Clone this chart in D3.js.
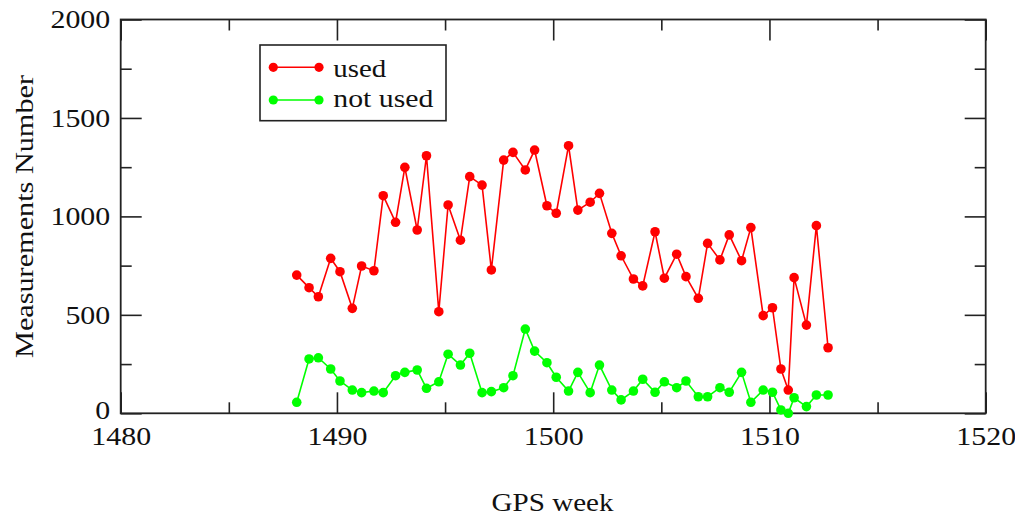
<!DOCTYPE html>
<html>
<head>
<meta charset="utf-8">
<script src="https://cdn.jsdelivr.net/npm/d3@7"></script>
<style>
  html, body { margin: 0; padding: 0; background: #fff; }
  svg { display: block; }
  text { font-family: "Liberation Serif", "DejaVu Serif", serif; fill: #111; }
</style>
</head>
<body>
<svg id="chart" width="1015" height="516"></svg>
<script>
// ---- data ----
const weeks = [1488.14, 1488.71, 1489.14, 1489.71, 1490.14, 1490.71, 1491.14, 1491.71,
  1492.14, 1492.71, 1493.14, 1493.71, 1494.14, 1494.71, 1495.14, 1495.71, 1496.14, 1496.71,
  1497.14, 1497.71, 1498.14, 1498.71, 1499.14, 1499.71, 1500.14, 1500.71, 1501.14, 1501.71,
  1502.14, 1502.71, 1503.14, 1503.71, 1504.14, 1504.71, 1505.14, 1505.71, 1506.14, 1506.71,
  1507.14, 1507.71, 1508.14, 1508.71, 1509.14, 1509.71, 1510.14, 1510.53, 1510.87, 1511.14,
  1511.71, 1512.17, 1512.71];
const used = [702, 638, 592, 787, 719, 533, 748, 724, 1105, 970, 1249, 931, 1308, 516, 1058,
  879, 1202, 1159, 728, 1286, 1325, 1236, 1337, 1054, 1016, 1359, 1032, 1072, 1117, 914, 800,
  682, 647, 922, 686, 808, 694, 584, 863, 779, 906, 775, 943, 496, 536, 225, 118, 689, 448, 953, 333];
const notUsed = [56, 276, 282, 225, 164, 118, 105, 113, 105, 191, 208, 220, 127, 160, 300, 245,
  305, 105, 110, 130, 191, 428, 316, 257, 183, 113, 208, 105, 245, 118, 68, 113, 173, 107, 160,
  130, 164, 84, 84, 130, 107, 208, 56, 118, 107, 17, 0, 79, 34, 93, 93];
const seriesNames = ["used", "not used"];
const seriesColors = ["#ff0000", "#00ff00"];
const xMajorTicks = [1480, 1490, 1500, 1510, 1520];
const xMinorTicks = [1485, 1495, 1505, 1515];
const yMajorTicks = [0, 500, 1000, 1500, 2000];
const yMinorTicks = [250, 750, 1250, 1750];
const xTitle = "GPS week";
const yTitle = "Measurements Number";

// ---- layout ----
const L = 120.7, R = 985.7, T = 19.5, B = 413.3;
const svg = d3.select("#chart");
const x = d3.scaleLinear().domain([1480, 1520]).range([L, R]);
const y = d3.scaleLinear().domain([0, 2000]).range([B, T]);
const SX = 1.15; // horizontal stretch of the original lettering
const axisColor = "#222";

function styleAxis(g) {
  g.select(".domain").remove();
  g.selectAll(".tick line").attr("stroke", axisColor).attr("stroke-width", 1.6);
}

// bottom major (with labels)
const gxb = svg.append("g").attr("transform", `translate(0,${B})`)
  .call(d3.axisBottom(x).tickValues(xMajorTicks).tickSizeInner(-21).tickSizeOuter(0).tickFormat(d3.format("d")));
styleAxis(gxb);
gxb.selectAll(".tick text")
  .attr("y", 31.7).attr("dy", null)
  .attr("transform", `scale(${SX},1)`)
  .style("font-size", "26px").attr("fill", "#111");
// bottom minor
styleAxis(svg.append("g").attr("transform", `translate(0,${B})`)
  .call(d3.axisBottom(x).tickValues(xMinorTicks).tickSizeInner(-11).tickSizeOuter(0).tickFormat("")));
// top
styleAxis(svg.append("g").attr("transform", `translate(0,${T})`)
  .call(d3.axisTop(x).tickValues(xMajorTicks).tickSizeInner(-21).tickSizeOuter(0).tickFormat("")));
styleAxis(svg.append("g").attr("transform", `translate(0,${T})`)
  .call(d3.axisTop(x).tickValues(xMinorTicks).tickSizeInner(-11).tickSizeOuter(0).tickFormat("")));

// left major with labels
const gyl = svg.append("g").attr("transform", `translate(${L},0)`)
  .call(d3.axisLeft(y).tickValues(yMajorTicks).tickSizeInner(-21).tickSizeOuter(0).tickFormat(d3.format("d")));
styleAxis(gyl);
gyl.selectAll(".tick text")
  .attr("x", -10.5 / SX)
  .attr("dy", d => d === 0 ? "0.2em" : "0.32em")
  .attr("transform", `scale(${SX},1)`)
  .style("font-size", "26px").attr("fill", "#111");
styleAxis(svg.append("g").attr("transform", `translate(${L},0)`)
  .call(d3.axisLeft(y).tickValues(yMinorTicks).tickSizeInner(-11).tickSizeOuter(0).tickFormat("")));
// right
styleAxis(svg.append("g").attr("transform", `translate(${R},0)`)
  .call(d3.axisRight(y).tickValues(yMajorTicks).tickSizeInner(-21).tickSizeOuter(0).tickFormat("")));
styleAxis(svg.append("g").attr("transform", `translate(${R},0)`)
  .call(d3.axisRight(y).tickValues(yMinorTicks).tickSizeInner(-11).tickSizeOuter(0).tickFormat("")));

// frame
svg.append("rect").attr("x", L).attr("y", T).attr("width", R - L).attr("height", B - T)
  .attr("fill", "none").attr("stroke", axisColor).attr("stroke-width", 1.8);

// titles
svg.append("text").attr("x", 552.5).attr("y", 510.7).attr("text-anchor", "middle")
  .attr("textLength", 122).attr("lengthAdjust", "spacingAndGlyphs")
  .style("font-size", "26px").text(xTitle);
svg.append("text").attr("transform", "translate(33,216.5) rotate(-90)").attr("text-anchor", "middle")
  .attr("textLength", 283).attr("lengthAdjust", "spacingAndGlyphs")
  .style("font-size", "26px").text(yTitle);

// series
const seriesData = [used, notUsed];
const line = d3.line().x(d => x(d[0])).y(d => y(d[1]));
seriesData.forEach((vals, i) => {
  const pts = weeks.map((w, j) => [w, vals[j]]);
  svg.append("path").datum(pts).attr("d", line)
    .attr("fill", "none").attr("stroke", seriesColors[i]).attr("stroke-width", 1.6);
  svg.append("g").selectAll("circle").data(pts).join("circle")
    .attr("cx", d => x(d[0])).attr("cy", d => y(d[1])).attr("r", 4.8)
    .attr("fill", seriesColors[i]);
});

// legend
const lg = svg.append("g");
lg.append("rect").attr("x", 260).attr("y", 45).attr("width", 186).attr("height", 75.7)
  .attr("fill", "#fff").attr("stroke", axisColor).attr("stroke-width", 1.6);
const legY = [67.3, 100];
const legTextY = [76.7, 107.3];
const legTextLen = [53, 100];
seriesNames.forEach((name, i) => {
  lg.append("line").attr("x1", 273.3).attr("x2", 319).attr("y1", legY[i]).attr("y2", legY[i])
    .attr("stroke", seriesColors[i]).attr("stroke-width", 1.6);
  [273.3, 319].forEach(cx => lg.append("circle").attr("cx", cx).attr("cy", legY[i]).attr("r", 4.6)
    .attr("fill", seriesColors[i]));
  lg.append("text").attr("x", 333.3).attr("y", legTextY[i])
    .attr("textLength", legTextLen[i]).attr("lengthAdjust", "spacingAndGlyphs")
    .style("font-size", "26px").text(name);
});
</script>
</body>
</html>
